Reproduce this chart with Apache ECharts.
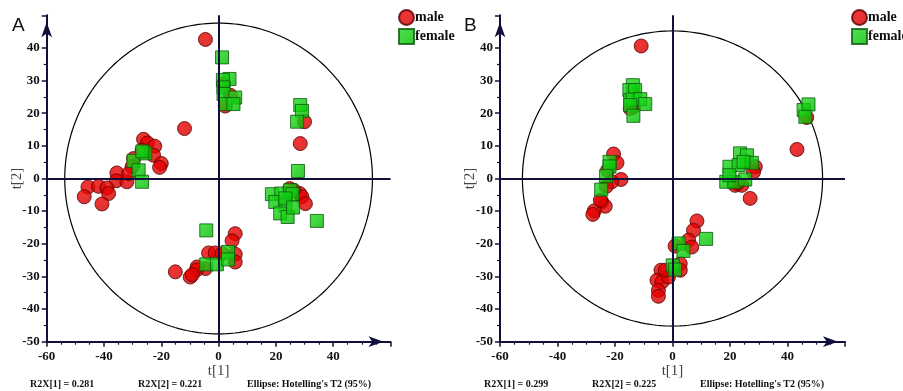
<!DOCTYPE html>
<html><head><meta charset="utf-8">
<script src="https://cdn.jsdelivr.net/npm/echarts@6/dist/echarts.min.js"></script>
<style>html,body{margin:0;padding:0;background:#fff;}#c{width:903px;height:391px;}</style>
</head><body><div id="c"></div>
<script>
// ---- data ----
var xTicks = [-60, -40, -20, 0, 20, 40, 60];
var yTicks = [-50, -40, -30, -20, -10, 0, 10, 20, 30, 40, 50];
var panelLabels = ['A', 'B'];
var seriesNames = ['male', 'female'];
var ellipseA = [53.7, 47.6];   // panel A semi-axes (t1, t2)
var ellipseB = [52.2, 45.2];   // panel B semi-axes
var statsA = ['R2X[1] = 0.281', 'R2X[2] = 0.221', "Ellipse: Hotelling's T2 (95%)"];
var statsB = ['R2X[1] = 0.299', 'R2X[2] = 0.225', "Ellipse: Hotelling's T2 (95%)"];

var maleA = [[-4.6,42.6],[-11.9,15.3],
 [-26.2,12],[-24.8,10.9],[-22.3,9.9],[-22.7,7.1],[-20,4.6],[-20.6,3.4],[-26.7,8.7],[-29.7,6.1],[-30.2,3.6],
 [-35.5,1.7],[-35.7,-0.7],[-32,-1.0],[-31.4,1.5],[-45.6,-2.6],[-41.9,-2.4],[-39,-2.9],[-38.4,-4.6],[-46.9,-5.6],[-40.7,-7.8],
 [1.7,28.9],[4.1,25.5],[2.3,22.2],
 [30.0,17.4],[28.5,10.7],
 [28.3,-4.6],[29.1,-5.6],[30.3,-7.7],[24.8,-3.1],[26.2,-3.6],
 [5.8,-16.9],[4.7,-19.1],[-3.5,-22.8],[-1.2,-22.8],[1.2,-23.0],[5.8,-23.2],[5.8,-25.6],[-4.6,-27.6],[-7.5,-27.1],
 [-7.7,-28],[-9.9,-30.2],[-9.2,-29.5],[-15.1,-28.6]];
var femaleA = [[-29.7,5.4],[-25.6,7.7],[-26.6,8.3],[-27.9,2.5],[-26.7,-1.0],
 [1.2,37.1],[3.8,30.5],[1.5,30.2],[1.7,27.9],[1.7,25.9],[5.8,24.8],[2.3,22.8],[5.2,22.8],
 [28.5,22.5],[29.1,20.7],[27.4,17.4],[27.7,2.3],
 [18.6,-4.8],[21.9,-4.6],[25,-3.6],[25.8,-4.8],[19.8,-7.2],[23.3,-8.2],[21.5,-10.7],[24.1,-11.8],[34.3,-13.0],[23.3,-6.1],[26,-8.9],
 [-4.3,-15.9],[-4.3,-26.3],[-0.6,-26.3],[3.3,-22.5],[3.3,-24.8]];
var maleB = [[-10.9,40.6],[-14.7,21.4],[-13.5,22.0],
 [-20.5,7.5],[-19.3,4.8],[-17.9,-0.3],[-21.1,-1.0],[-23,-2.4],[-22.6,2.5],[-24.6,-7.2],[-23.4,-8.5],[-27.2,-9.9],[-27.7,-11],[-25.1,-6.7],
 [43.3,8.9],[46.7,18.7],
 [28.8,3.6],[28.2,2.0],[21.8,-2.1],[24.1,-2.1],[27,-6.1],[22.6,-1.5],
 [8.5,-13],[7.3,-15.9],[5.6,-18.9],[6.7,-21],[0.9,-20.7],[2.7,-26.1],[2.7,-28.1],[-4,-28.1],[-5.4,-31.2],[-3.7,-31.7],
 [-4.9,-34.3],[-4.9,-36.1],[-1.4,-30.2],[-2.5,-28.1]];
var femaleB = [[-13.8,28.6],[-15,27.1],[-13,27.1],[-14.7,24.0],[-13.8,24.2],[-11.2,24.3],[-9.5,22.8],[-14.7,22.5],[-13.6,19.2],
 [-21.9,5.1],[-21.9,3.7],[-23.1,0.7],[-24.8,-3.4],
 [45.6,21],[47.3,22.7],[46.2,18.9],
 [23.5,7.7],[25.9,7.1],[27.6,4.8],[19.8,3.6],[23,4.1],[24.7,5.1],[18.7,-1.0],[21.5,-1.0],[25.3,-0.3],[19.8,1.0],
 [11.7,-18.5],[2.1,-19.9],[3.8,-22.2],[0.1,-26.6],[0.9,-27.9]];

// ---- styling ----
var AX = '#10103a';
var SERIF = '"Liberation Serif","Times New Roman",serif';
var redStyle = {color: new echarts.graphic.RadialGradient(0.4,0.35,0.75,[{offset:0,color:'#f00000'},{offset:1,color:'#cc0000'}]), borderColor:'#5a0000', borderWidth:1};
var greenStyle = {color: new echarts.graphic.LinearGradient(0,0,1,1,[{offset:0,color:'#22dd22'},{offset:1,color:'#00bb00'}]), borderColor:'#0a5a0a', borderWidth:1};

var grids = [
  {left:46.7, top:15.3, width:343.8, height:326.4},
  {left:500, top:15.3, width:345, height:326.4}
];

function xAxisCfg(i){
  return {gridIndex:i, type:'value', min:xTicks[0], max:xTicks[xTicks.length-1], interval:20,
    name:'t[1]', nameLocation:'middle', nameGap:22, nameMoveOverlap:false,
    nameTextStyle:{fontFamily:SERIF, fontSize:15, color:'#444'},
    axisLine:{onZero:false, lineStyle:{color:AX, width:2}, symbol:['none','arrow'], symbolSize:[8,15], symbolOffset:[0,-7]},
    axisTick:{show:true, length:5, lineStyle:{color:AX, width:1.5}},
    minorTick:{show:true, splitNumber:4, length:3, lineStyle:{color:AX, width:1.2}},
    axisLabel:{showMaxLabel:false, margin:8, fontFamily:SERIF, fontWeight:'bold', fontSize:13, color:'#111'},
    splitLine:{show:false}};
}
function yAxisCfg(i){
  return {gridIndex:i, type:'value', min:yTicks[0], max:yTicks[yTicks.length-1], interval:10,
    name:'t[2]', nameLocation:'middle', nameGap:22, nameMoveOverlap:false,
    nameTextStyle:{fontFamily:SERIF, fontSize:15, color:'#444'},
    axisLine:{onZero:false, lineStyle:{color:AX, width:2}, symbol:['none','arrow'], symbolSize:[8,15], symbolOffset:[0,-7]},
    axisTick:{show:true, length:5, lineStyle:{color:AX, width:1.5}},
    minorTick:{show:true, splitNumber:2, length:3, lineStyle:{color:AX, width:1.2}},
    axisLabel:{showMaxLabel:false, margin:7, fontFamily:SERIF, fontWeight:'bold', fontSize:13, color:'#111'},
    splitLine:{show:false}};
}
function ellipseSeries(i, ab){
  return {type:'custom', xAxisIndex:i, yAxisIndex:i, data:[[0,0]], silent:true, z:1, clip:false,
    renderItem:function(params, api){
      var pts = [];
      for (var k=0;k<=240;k++){
        var t = k/240*2*Math.PI;
        pts.push(api.coord([ab[0]*Math.cos(t), ab[1]*Math.sin(t)]));
      }
      return {type:'polyline', shape:{points:pts}, style:{stroke:'#000', fill:null, lineWidth:1.2}};
    }};
}
function maleSeries(i, data){
  return {name:seriesNames[0], type:'scatter', xAxisIndex:i, yAxisIndex:i, data:data, symbol:'circle', symbolSize:14,
    itemStyle:redStyle, z:3,
    markLine:{silent:true, symbol:'none', label:{show:false},
      lineStyle:{color:AX, width:2, type:'solid'},
      data:[{xAxis:0},{yAxis:0}]}};
}
function femaleSeries(i, data){
  return {name:seriesNames[1], type:'scatter', xAxisIndex:i, yAxisIndex:i, data:data, symbol:'rect', symbolSize:13,
    itemStyle:greenStyle, z:4};
}
function legendCfg(left){
  return {left:left, top:9, orient:'vertical', padding:0, itemGap:2, itemWidth:15, itemHeight:15,
    data:[{name:seriesNames[0], icon:'circle'},{name:seriesNames[1], icon:'rect'}],
    selectedMode:false,
    textStyle:{fontFamily:SERIF, fontWeight:'bold', fontSize:14, color:'#111', padding:[0,0,0,-4]}};
}
function txt(x, y, s, style){
  return {type:'text', left:x, top:y, style:Object.assign({text:s, fill:'#111'}, style)};
}
var statStyle = {font:'bold 10px "Liberation Serif", serif'};
var graphics = [
  txt(12, 16, panelLabels[0], {font:'19px "Liberation Sans", Arial, sans-serif'}),
  txt(464, 16, panelLabels[1], {font:'19px "Liberation Sans", Arial, sans-serif'}),
  txt(30, 379, statsA[0], statStyle), txt(138, 379, statsA[1], statStyle), txt(247, 379, statsA[2], statStyle),
  txt(484, 379, statsB[0], statStyle), txt(592, 379, statsB[1], statStyle), txt(700, 379, statsB[2], statStyle)
];

var chart = echarts.init(document.getElementById('c'), null, {renderer:'canvas'});
chart.setOption({
  animation:false,
  backgroundColor:'#fff',
  grid:grids,
  xAxis:[xAxisCfg(0), xAxisCfg(1)],
  yAxis:[yAxisCfg(0), yAxisCfg(1)],
  legend:[legendCfg(398), legendCfg(851)],
  graphic:graphics,
  series:[
    ellipseSeries(0, ellipseA), maleSeries(0, maleA), femaleSeries(0, femaleA),
    ellipseSeries(1, ellipseB), maleSeries(1, maleB), femaleSeries(1, femaleB)
  ]
});
</script></body></html>
